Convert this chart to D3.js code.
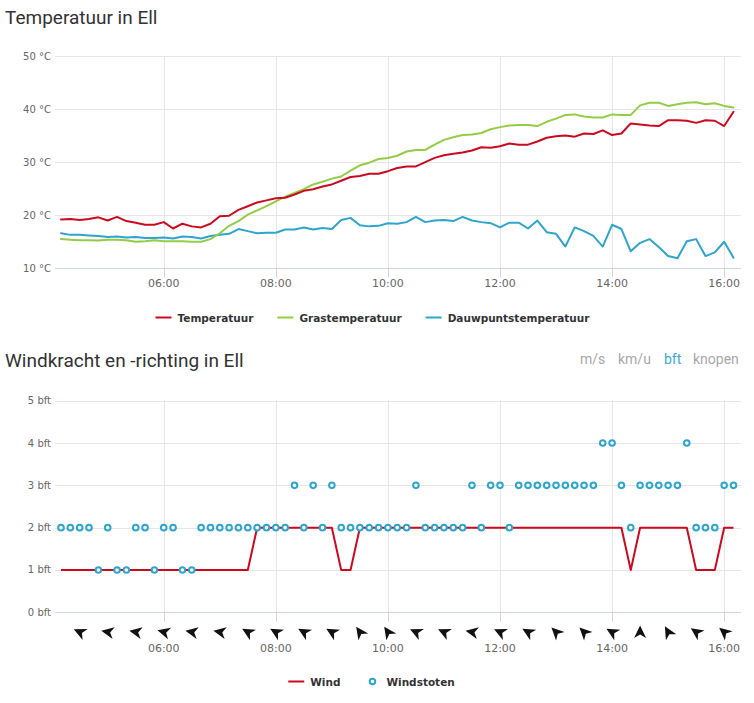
<!DOCTYPE html>
<html>
<head>
<meta charset="utf-8">
<script src="https://cdn.jsdelivr.net/npm/d3@7"></script>
<style>
  html, body { margin: 0; padding: 0; background: #fff; }
  svg { display: block; }
</style>
</head>
<body>
<svg id="chart" width="754" height="703"></svg>
<script>
// ---------- DATA ----------
const times = ["04:10","04:20","04:30","04:40","04:50","05:00","05:10","05:20","05:30","05:40","05:50",
  "06:00","06:10","06:20","06:30","06:40","06:50","07:00","07:10","07:20","07:30","07:40","07:50",
  "08:00","08:10","08:20","08:30","08:40","08:50","09:00","09:10","09:20","09:30","09:40","09:50",
  "10:00","10:10","10:20","10:30","10:40","10:50","11:00","11:10","11:20","11:30","11:40","11:50",
  "12:00","12:10","12:20","12:30","12:40","12:50","13:00","13:10","13:20","13:30","13:40","13:50",
  "14:00","14:10","14:20","14:30","14:40","14:50","15:00","15:10","15:20","15:30","15:40","15:50",
  "16:00","16:10"];

const temperatuur = [19.2,19.3,19.1,19.3,19.6,19.0,19.7,18.9,18.6,18.2,18.2,18.7,17.5,18.4,17.9,17.7,18.4,19.8,19.9,21.0,
  21.7,22.4,22.8,23.2,23.3,23.9,24.6,24.9,25.4,25.8,26.5,27.2,27.4,27.8,27.8,28.3,28.9,29.2,29.2,30.0,
  30.8,31.3,31.6,31.8,32.2,32.8,32.7,33.0,33.5,33.3,33.3,33.9,34.6,34.9,35.0,34.8,35.4,35.3,36.0,35.1,
  35.4,37.3,37.1,36.9,36.8,37.9,37.9,37.8,37.4,37.9,37.8,36.8,39.5];

const grastemperatuur = [15.5,15.4,15.3,15.3,15.25,15.4,15.4,15.3,15.0,15.1,15.3,15.1,15.1,15.1,15.0,15.0,15.5,16.6,18.0,18.9,
  20.1,20.9,21.7,22.6,23.5,24.2,24.9,25.8,26.3,26.9,27.3,28.4,29.4,29.9,30.6,30.8,31.2,32.0,32.3,32.3,
  33.3,34.2,34.7,35.1,35.2,35.5,36.2,36.6,36.9,37.0,37.0,36.8,37.6,38.2,38.9,39.0,38.6,38.4,38.4,39.0,
  38.9,38.9,40.7,41.2,41.2,40.6,40.9,41.2,41.3,40.9,41.1,40.6,40.3];

const dauwpunt = [16.6,16.3,16.3,16.2,16.1,15.9,16.0,15.8,15.9,15.7,15.7,15.8,15.6,16.0,15.9,15.6,16.1,16.3,16.5,17.4,
  17.0,16.6,16.7,16.7,17.3,17.3,17.7,17.3,17.6,17.4,19.1,19.5,18.1,17.9,18.0,18.5,18.4,18.7,19.7,18.7,
  19.0,19.1,18.9,19.7,19.0,18.7,18.5,17.7,18.6,18.6,17.5,19.0,16.8,16.5,14.1,17.7,17.0,16.1,14.1,18.2,
  17.4,13.2,14.8,15.5,14.0,12.3,11.9,15.1,15.5,12.3,13.0,15.0,12.0];

const wind = [1,1,1,1,1,1,1,1,1,1,1,1,1,1,1,1,1,1,1,1,
  1,2,2,2,2,2,2,2,2,2,1,1,2,2,2,2,2,2,2,2,
  2,2,2,2,2,2,2,2,2,2,2,2,2,2,2,2,2,2,2,2,
  2,1,2,2,2,2,2,2,1,1,1,2,2];

const windstoten = [2,2,2,2,1,2,1,1,2,2,1,2,2,1,1,2,2,2,2,2,
  2,2,2,2,2,3,2,3,2,3,2,2,2,2,2,2,2,2,3,2,
  2,2,2,2,3,2,3,3,2,3,3,3,3,3,3,3,3,3,4,4,
  3,2,3,3,3,3,3,4,2,2,2,3,3];

const dirTimes = ["04:30","05:00","05:30","06:00","06:30","07:00","07:30","08:00","08:30","09:00","09:30","10:00",
  "10:30","11:00","11:30","12:00","12:30","13:00","13:30","14:00","14:30","15:00","15:30","16:00"];
// wind direction (degrees, where the wind comes from)
const windrichting = [115,100,100,105,100,100,120,120,120,120,145,145,
  115,115,100,115,120,135,135,120,180,150,125,130];

const tempTicks = [10,20,30,40,50];
const bftTicks = [0,1,2,3,4,5];
const units = ["m/s","km/u","bft","knopen"];

// ---------- SETUP ----------
const svg = d3.select("#chart");
const parse = d3.timeParse("%H:%M");
const tDates = times.map(parse);
const FONT = "'DejaVu Sans', sans-serif";
const TITLEFONT = "Roboto, sans-serif";

const cRed = "#cc0a1f", cGreen = "#93cc45", cBlue = "#2ea5cf";
const gridColor = "#e6e6e6", axisColor = "#ccd6eb", labelColor = "#666";

const plotL = 55, plotR = 741;
const x = d3.scaleTime().domain([parse("04:10"), parse("16:10")]).range([61, 733.5]);
const xTicks = x.ticks(d3.timeHour.every(2));
const crisp = v => Math.round(v) + 0.5;

function drawPanel(g, y, yTicks, fmt, top, xLabelY) {
  g.append("g").selectAll("line").data(yTicks.slice(1)).join("line")
    .attr("x1", plotL).attr("x2", plotR)
    .attr("y1", d => crisp(y(d))).attr("y2", d => crisp(y(d)))
    .attr("stroke", gridColor).attr("stroke-width", 1);
  g.append("g").selectAll("line").data(xTicks).join("line")
    .attr("x1", d => crisp(x(d))).attr("x2", d => crisp(x(d)))
    .attr("y1", top).attr("y2", crisp(y(yTicks[0])))
    .attr("stroke", gridColor).attr("stroke-width", 1);
  g.append("g").selectAll("line").data(xTicks).join("line")
    .attr("x1", d => crisp(x(d))).attr("x2", d => crisp(x(d)))
    .attr("y1", crisp(y(yTicks[0]))).attr("y2", crisp(y(yTicks[0])) + 9)
    .attr("stroke", axisColor).attr("stroke-width", 1);
  g.append("line").attr("x1", plotL).attr("x2", plotR)
    .attr("y1", crisp(y(yTicks[0]))).attr("y2", crisp(y(yTicks[0])))
    .attr("stroke", axisColor).attr("stroke-width", 1);
  g.append("g").selectAll("text").data(yTicks).join("text")
    .attr("x", 51).attr("y", d => y(d) + 3.5)
    .attr("text-anchor", "end").attr("font-family", FONT).attr("font-size", 10)
    .attr("fill", labelColor).text(fmt);
  g.append("g").selectAll("text").data(xTicks).join("text")
    .attr("x", d => x(d)).attr("y", xLabelY)
    .attr("text-anchor", "middle").attr("font-family", FONT).attr("font-size", 11)
    .attr("fill", labelColor).text(d => d3.timeFormat("%H:%M")(d));
}

// legend helper: items laid out horizontally, centred on cx
function drawLegend(items, cx, cy) {
  const g = svg.append("g");
  const gap = 24;
  const parts = items.map(it => {
    const ig = g.append("g");
    if (it.type === "line") {
      ig.append("line").attr("x1", 0).attr("x2", 16).attr("y1", cy).attr("y2", cy)
        .attr("stroke", it.color).attr("stroke-width", 2);
    } else {
      ig.append("circle").attr("cx", 8).attr("cy", cy).attr("r", 2.8)
        .attr("fill", "#fff").attr("stroke", it.color).attr("stroke-width", 2);
    }
    const t = ig.append("text").attr("x", 22).attr("y", cy + 4)
      .attr("font-family", FONT).attr("font-weight", "bold").attr("font-size", 10.5)
      .attr("fill", "#333").text(it.name);
    return { g: ig, w: 22 + t.node().getComputedTextLength() };
  });
  const total = d3.sum(parts, p => p.w) + gap * (parts.length - 1);
  let cur = cx - total / 2;
  parts.forEach(p => { p.g.attr("transform", `translate(${cur},0)`); cur += p.w + gap; });
}

// ---------- TOP CHART ----------
svg.append("text").attr("x", 5).attr("y", 24)
  .attr("font-family", TITLEFONT).attr("font-size", 19).attr("fill", "#333")
  .text("Temperatuur in Ell");

const yT = d3.scaleLinear().domain([10, 50]).range([268.3, 56]);
const gTop = svg.append("g");
drawPanel(gTop, yT, tempTicks, d => d + " °C", 56, 287);

const tempSeries = [
  { name: "Temperatuur", values: temperatuur, color: cRed },
  { name: "Grastemperatuur", values: grastemperatuur, color: cGreen },
  { name: "Dauwpuntstemperatuur", values: dauwpunt, color: cBlue }
];
const lineT = d3.line().x((d, i) => x(tDates[i])).y(d => yT(d));
[tempSeries[2], tempSeries[1], tempSeries[0]].forEach(s => {
  gTop.append("path").datum(s.values).attr("d", lineT)
    .attr("fill", "none").attr("stroke", s.color).attr("stroke-width", 2)
    .attr("stroke-linejoin", "round").attr("stroke-linecap", "round");
});

drawLegend(tempSeries.map(s => ({ name: s.name, color: s.color, type: "line" })), 372.5, 317.5);

// ---------- BOTTOM CHART ----------
svg.append("text").attr("x", 5).attr("y", 367)
  .attr("font-family", TITLEFONT).attr("font-size", 19).attr("fill", "#333")
  .text("Windkracht en -richting in Ell");

const unitX = [580, 618, 664, 693];
svg.append("g").selectAll("text").data(units).join("text")
  .attr("x", (d, i) => unitX[i]).attr("y", 364)
  .attr("font-family", TITLEFONT).attr("font-size", 14)
  .attr("fill", d => d === "bft" ? "#3aa9dc" : "#a8a8a8").text(d => d);

const yB = d3.scaleLinear().domain([0, 5]).range([612.3, 400.7]);
const gBot = svg.append("g");
drawPanel(gBot, yB, bftTicks, d => d + " bft", 400, 652);

const lineW = d3.line().x((d, i) => x(tDates[i])).y(d => yB(d));
gBot.append("path").datum(wind).attr("d", lineW)
  .attr("fill", "none").attr("stroke", cRed).attr("stroke-width", 2)
  .attr("stroke-linejoin", "round");

gBot.append("g").selectAll("circle").data(windstoten).join("circle")
  .attr("cx", (d, i) => x(tDates[i])).attr("cy", d => yB(d))
  .attr("r", 2.8).attr("fill", "#fff").attr("stroke", cBlue).attr("stroke-width", 2);

const arrowPath = "M0,-6.5 L6,6 L0,2.5 L-6,6 Z";
gBot.append("g").selectAll("path").data(windrichting).join("path")
  .attr("d", arrowPath)
  .attr("transform", (d, i) => `translate(${x(parse(dirTimes[i]))},632) rotate(${d + 180})`)
  .attr("fill", "#111");

drawLegend([
  { name: "Wind", color: cRed, type: "line" },
  { name: "Windstoten", color: cBlue, type: "marker" }
], 371.5, 681.5);
</script>
</body>
</html>
